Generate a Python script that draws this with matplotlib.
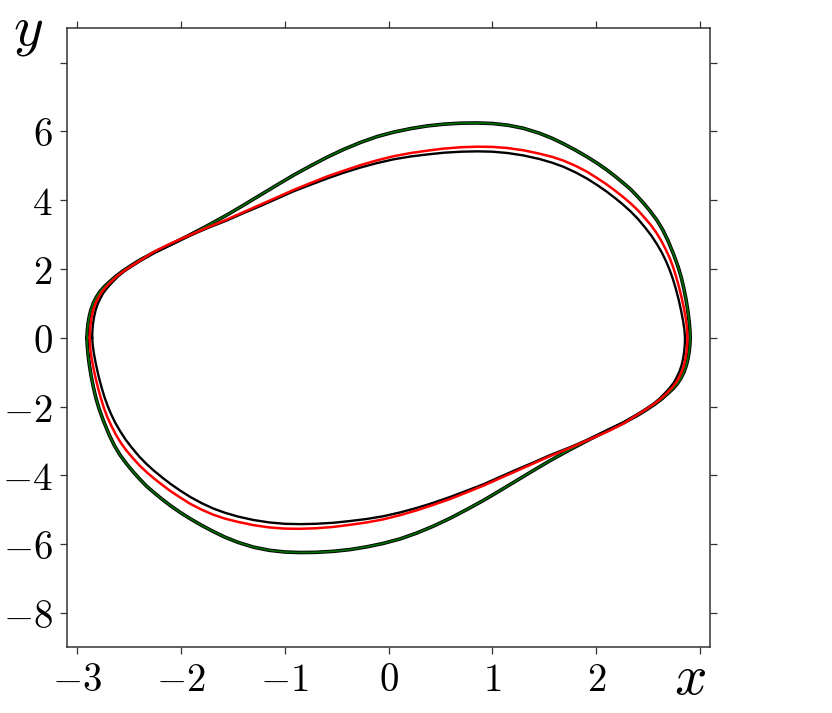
import numpy as np
import matplotlib
matplotlib.use('Agg')
import matplotlib.pyplot as plt

# outer cycle (black under green): upper half from left tip to right tip, then lower half back
outer_top_x = [-2.905, -2.902, -2.895, -2.884, -2.868, -2.845, -2.815, -2.78, -2.74, -2.69, -2.63, -2.56,
               -2.48, -2.40, -2.26, -2.10, -1.94, -1.75, -1.557, -1.40, -1.235, -1.07, -0.914, -0.75,
               -0.592, -0.43, -0.27, -0.11, 0.051, 0.21, 0.373, 0.53, 0.70, 0.855, 1.00, 1.15,
               1.30, 1.45, 1.575, 1.685, 1.80, 1.91, 2.007, 2.10, 2.18, 2.26, 2.33, 2.40,
               2.46, 2.52, 2.586, 2.64, 2.69, 2.746, 2.79, 2.82, 2.843, 2.865, 2.882, 2.895, 2.902, 2.905]
outer_top_y = [0.00, 0.20, 0.40, 0.60, 0.80, 1.00, 1.18, 1.34, 1.48, 1.62, 1.78, 1.94,
               2.10, 2.25, 2.48, 2.71, 2.95, 3.25, 3.57, 3.85, 4.15, 4.45, 4.73, 5.00,
               5.25, 5.48, 5.68, 5.85, 5.98, 6.08, 6.16, 6.21, 6.24, 6.245, 6.23, 6.18,
               6.09, 5.95, 5.80, 5.64, 5.456, 5.264, 5.08, 4.885, 4.70, 4.50, 4.32, 4.10,
               3.90, 3.68, 3.41, 3.14, 2.83, 2.42, 2.05, 1.74, 1.44, 1.11, 0.79, 0.47, 0.22, 0.00]
outer_bot_x = [2.902, 2.895, 2.884, 2.868, 2.845, 2.815, 2.78, 2.74, 2.69, 2.63, 2.56,
               2.48, 2.40, 2.26, 2.10, 1.94, 1.75, 1.557, 1.40, 1.235, 1.07, 0.914, 0.75,
               0.592, 0.43, 0.27, 0.11, -0.051, -0.21, -0.373, -0.53, -0.70, -0.855, -1.00, -1.15,
               -1.30, -1.45, -1.575, -1.685, -1.80, -1.91, -2.007, -2.10, -2.18, -2.26, -2.33, -2.40,
               -2.46, -2.52, -2.586, -2.64, -2.69, -2.746, -2.79, -2.82, -2.843, -2.865, -2.882, -2.895,
               -2.902, -2.905]
outer_bot_y = [-0.20, -0.40, -0.60, -0.80, -1.00, -1.18, -1.34, -1.48, -1.62, -1.78, -1.94,
               -2.10, -2.25, -2.48, -2.71, -2.95, -3.25, -3.57, -3.85, -4.15, -4.45, -4.73, -5.00,
               -5.25, -5.48, -5.68, -5.85, -5.98, -6.08, -6.16, -6.21, -6.24, -6.245, -6.23, -6.18,
               -6.09, -5.95, -5.80, -5.64, -5.456, -5.264, -5.08, -4.885, -4.70, -4.50, -4.32, -4.10,
               -3.90, -3.68, -3.41, -3.14, -2.83, -2.42, -2.05, -1.74, -1.44, -1.11, -0.79, -0.47,
               -0.22, 0.00]

# red cycle
red_top_x = [-2.878, -2.876, -2.870, -2.860, -2.845, -2.825, -2.80, -2.77, -2.73, -2.68, -2.62, -2.55,
             -2.47, -2.39, -2.26, -2.10, -1.94, -1.75, -1.557, -1.40, -1.235, -1.07, -0.914, -0.75,
             -0.592, -0.43, -0.27, -0.11, 0.051, 0.21, 0.373, 0.53, 0.70, 0.855, 1.00, 1.15,
             1.30, 1.45, 1.575, 1.685, 1.80, 1.91, 2.007, 2.10, 2.18, 2.26, 2.33, 2.40,
             2.46, 2.525, 2.578, 2.63, 2.672, 2.71, 2.74, 2.77, 2.795, 2.822, 2.845, 2.862, 2.873, 2.878]
red_top_y = [0.00, 0.20, 0.40, 0.60, 0.80, 0.98, 1.14, 1.30, 1.45, 1.61, 1.78, 1.94,
             2.10, 2.25, 2.50, 2.74, 2.95, 3.20, 3.44, 3.65, 3.87, 4.09, 4.30, 4.50,
             4.69, 4.86, 5.02, 5.16, 5.28, 5.37, 5.44, 5.50, 5.54, 5.555, 5.55, 5.515,
             5.45, 5.355, 5.26, 5.15, 5.00, 4.83, 4.645, 4.46, 4.28, 4.09, 3.91, 3.71,
             3.51, 3.28, 3.06, 2.80, 2.55, 2.30, 2.06, 1.77, 1.50, 1.17, 0.85, 0.56, 0.32, 0.00]
red_bot_x = [2.876, 2.870, 2.860, 2.845, 2.825, 2.80, 2.77, 2.73, 2.68, 2.62, 2.55,
             2.47, 2.39, 2.26, 2.10, 1.94, 1.75, 1.557, 1.40, 1.235, 1.07, 0.914, 0.75,
             0.592, 0.43, 0.27, 0.11, -0.051, -0.21, -0.373, -0.53, -0.70, -0.855, -1.00, -1.15,
             -1.30, -1.45, -1.575, -1.685, -1.80, -1.91, -2.007, -2.10, -2.18, -2.26, -2.33, -2.40,
             -2.46, -2.525, -2.578, -2.63, -2.672, -2.71, -2.74, -2.77, -2.795, -2.822, -2.845, -2.862,
             -2.873, -2.878]
red_bot_y = [-0.20, -0.40, -0.60, -0.80, -0.98, -1.14, -1.30, -1.45, -1.61, -1.78, -1.94,
             -2.10, -2.25, -2.50, -2.74, -2.95, -3.20, -3.44, -3.65, -3.87, -4.09, -4.30, -4.50,
             -4.69, -4.86, -5.02, -5.16, -5.28, -5.37, -5.44, -5.50, -5.54, -5.555, -5.55, -5.515,
             -5.45, -5.355, -5.26, -5.15, -5.00, -4.83, -4.645, -4.46, -4.28, -4.09, -3.91, -3.71,
             -3.51, -3.28, -3.06, -2.80, -2.55, -2.30, -2.06, -1.77, -1.50, -1.17, -0.85, -0.56,
             -0.32, 0.00]

# inner black cycle
inner_top_x = [-2.855, -2.853, -2.847, -2.837, -2.822, -2.802, -2.777, -2.748, -2.71, -2.665, -2.61, -2.545,
               -2.465, -2.385, -2.255, -2.095, -1.94, -1.75, -1.557, -1.40, -1.235, -1.07, -0.914, -0.75,
               -0.592, -0.43, -0.27, -0.11, 0.051, 0.21, 0.373, 0.53, 0.70, 0.855, 1.00, 1.15,
               1.30, 1.45, 1.575, 1.685, 1.80, 1.91, 2.007, 2.10, 2.18, 2.255, 2.332, 2.40,
               2.472, 2.531, 2.587, 2.633, 2.673, 2.705, 2.737, 2.764, 2.793, 2.818, 2.837, 2.849, 2.855]
inner_top_y = [0.00, 0.20, 0.40, 0.60, 0.80, 0.98, 1.14, 1.30, 1.45, 1.60, 1.77, 1.93,
               2.09, 2.24, 2.47, 2.71, 2.93, 3.18, 3.41, 3.62, 3.83, 4.05, 4.26, 4.45,
               4.63, 4.80, 4.95, 5.08, 5.19, 5.27, 5.33, 5.38, 5.41, 5.42, 5.41, 5.37,
               5.30, 5.20, 5.09, 4.97, 4.81, 4.63, 4.445, 4.25, 4.065, 3.88, 3.67, 3.46,
               3.20, 2.97, 2.71, 2.47, 2.22, 1.99, 1.72, 1.45, 1.12, 0.78, 0.48, 0.24, 0.00]
inner_bot_x = [2.853, 2.847, 2.837, 2.822, 2.802, 2.777, 2.748, 2.71, 2.665, 2.61, 2.545,
               2.465, 2.385, 2.255, 2.095, 1.94, 1.75, 1.557, 1.40, 1.235, 1.07, 0.914, 0.75,
               0.592, 0.43, 0.27, 0.11, -0.051, -0.21, -0.373, -0.53, -0.70, -0.855, -1.00, -1.15,
               -1.30, -1.45, -1.575, -1.685, -1.80, -1.91, -2.007, -2.10, -2.18, -2.255, -2.332, -2.40,
               -2.472, -2.531, -2.587, -2.633, -2.673, -2.705, -2.737, -2.764, -2.793, -2.818, -2.837,
               -2.849, -2.855]
inner_bot_y = [-0.20, -0.40, -0.60, -0.80, -0.98, -1.14, -1.30, -1.45, -1.60, -1.77, -1.93,
               -2.09, -2.24, -2.47, -2.71, -2.93, -3.18, -3.41, -3.62, -3.83, -4.05, -4.26, -4.45,
               -4.63, -4.80, -4.95, -5.08, -5.19, -5.27, -5.33, -5.38, -5.41, -5.42, -5.41, -5.37,
               -5.30, -5.20, -5.09, -4.97, -4.81, -4.63, -4.445, -4.25, -4.065, -3.88, -3.67, -3.46,
               -3.20, -2.97, -2.71, -2.47, -2.22, -1.99, -1.72, -1.45, -1.12, -0.78, -0.48,
               -0.24, 0.00]

x_ticks = [-3, -2, -1, 0, 1, 2, 3]
x_labels = ['$-3$', '$-2$', '$-1$', '$0$', '$1$', '$2$', '']
y_ticks = [-8, -6, -4, -2, 0, 2, 4, 6, 8]
y_labels = ['$-8$', '$-6$', '$-4$', '$-2$', '$0$', '$2$', '$4$', '$6$', '']


def loop(top_x, top_y, bot_x, bot_y):
    return np.concatenate([top_x, bot_x]), np.concatenate([top_y, bot_y])


if __name__ == '__main__':
    plt.rcParams['mathtext.fontset'] = 'cm'

    fig = plt.figure(figsize=(8.32, 7.13), dpi=100)
    ax = fig.add_axes([0.0802, 0.0922, 0.7737, 0.8682])

    ox, oy = loop(outer_top_x, outer_top_y, outer_bot_x, outer_bot_y)
    rx, ry = loop(red_top_x, red_top_y, red_bot_x, red_bot_y)
    ix, iy = loop(inner_top_x, inner_top_y, inner_bot_x, inner_bot_y)

    ax.plot(ox, oy, color='black', lw=2.6, solid_joinstyle='round')
    ax.plot(ox, oy, color='#007000', lw=1.2, solid_joinstyle='round')
    ax.plot(ix, iy, color='black', lw=1.7, solid_joinstyle='round')
    ax.plot(rx, ry, color='red', lw=1.8, solid_joinstyle='round')

    ax.set_xlim(-3.1, 3.1)
    ax.set_ylim(-9, 9)
    ax.set_xticks(x_ticks)
    ax.set_xticklabels(x_labels)
    ax.set_yticks(y_ticks)
    ax.set_yticklabels(y_labels)
    ax.tick_params(direction='out', length=5, width=0.9, color='#333333',
                   labelsize=28, pad=5, top=True, right=True)
    for s in ax.spines.values():
        s.set_color('#333333')
        s.set_linewidth(1.1)

    fig.text(690.5 / 832, 1 - 694 / 713, '$x$', ha='center', va='baseline', fontsize=41)
    fig.text(28 / 832, 1 - 45 / 713, '$y$', ha='center', va='baseline', fontsize=41)

    fig.savefig('out.png', dpi=100)
